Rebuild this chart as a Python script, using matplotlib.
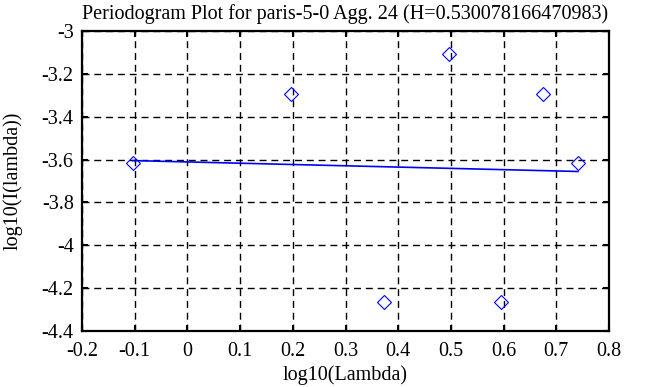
import matplotlib
matplotlib.use("Agg")
import matplotlib.pyplot as plt
import numpy as np

H = 0.530078166470983
log_lambda = [-0.104, 0.197, 0.374, 0.497, 0.595, 0.674, 0.741]
log_I = [-3.618, -3.293, -4.265, -3.107, -4.265, -3.293, -3.617]
fit_slope = 1 - 2 * H
fit_intercept = -3.611

xticks = [-0.2, -0.1, 0, 0.1, 0.2, 0.3, 0.4, 0.5, 0.6, 0.7, 0.8]
xticklabels = ["-0.2", "-0.1", "0", "0.1", "0.2", "0.3", "0.4", "0.5", "0.6", "0.7", "0.8"]
yticks = [-4.4, -4.2, -4, -3.8, -3.6, -3.4, -3.2, -3]
yticklabels = ["-4.4", "-4.2", "-4", "-3.8", "-3.6", "-3.4", "-3.2", "-3"]

plt.rcParams['font.family'] = ['Liberation Serif']
fig = plt.figure(figsize=(6.53, 3.87), dpi=100)
ax = fig.add_axes([82/653, 1 - 331/387, (609-82)/653, (331-31)/387])

xs = np.array(log_lambda)
ax.plot(xs, log_I, linestyle='none', marker='D', markersize=7.5, markerfacecolor='none',
        markeredgecolor='blue', markeredgewidth=0.8, zorder=3)
xl = np.array([xs.min(), xs.max()])
ax.plot(xl, fit_intercept + fit_slope * xl, color='blue', linewidth=1.2, zorder=2)

ax.set_xlim(-0.2, 0.8)
ax.set_ylim(-4.4, -3)
ax.set_xticks(xticks)
ax.set_xticklabels(xticklabels)
ax.set_yticks(yticks)
ax.set_yticklabels(yticklabels)
ax.grid(True, color='black', linestyle=(0, (5, 3.5)), linewidth=1.0)
ax.tick_params(direction='in', top=True, right=True, length=4.5, width=1.5, labelsize=14.5)
ax.tick_params(axis='x', pad=8)
ax.tick_params(axis='y', pad=6)
for s in ax.spines.values():
    s.set_linewidth(1.6)
ax.set_title("Periodogram Plot for paris-5-0 Agg. 24 (H=0.530078166470983)", fontsize=14.5, pad=9)
ax.set_xlabel("log10(Lambda)", fontsize=14.5, labelpad=3)
ax.set_ylabel("log10(I(lambda))", fontsize=14.5, labelpad=14)

fig.savefig("out.png", dpi=100)
